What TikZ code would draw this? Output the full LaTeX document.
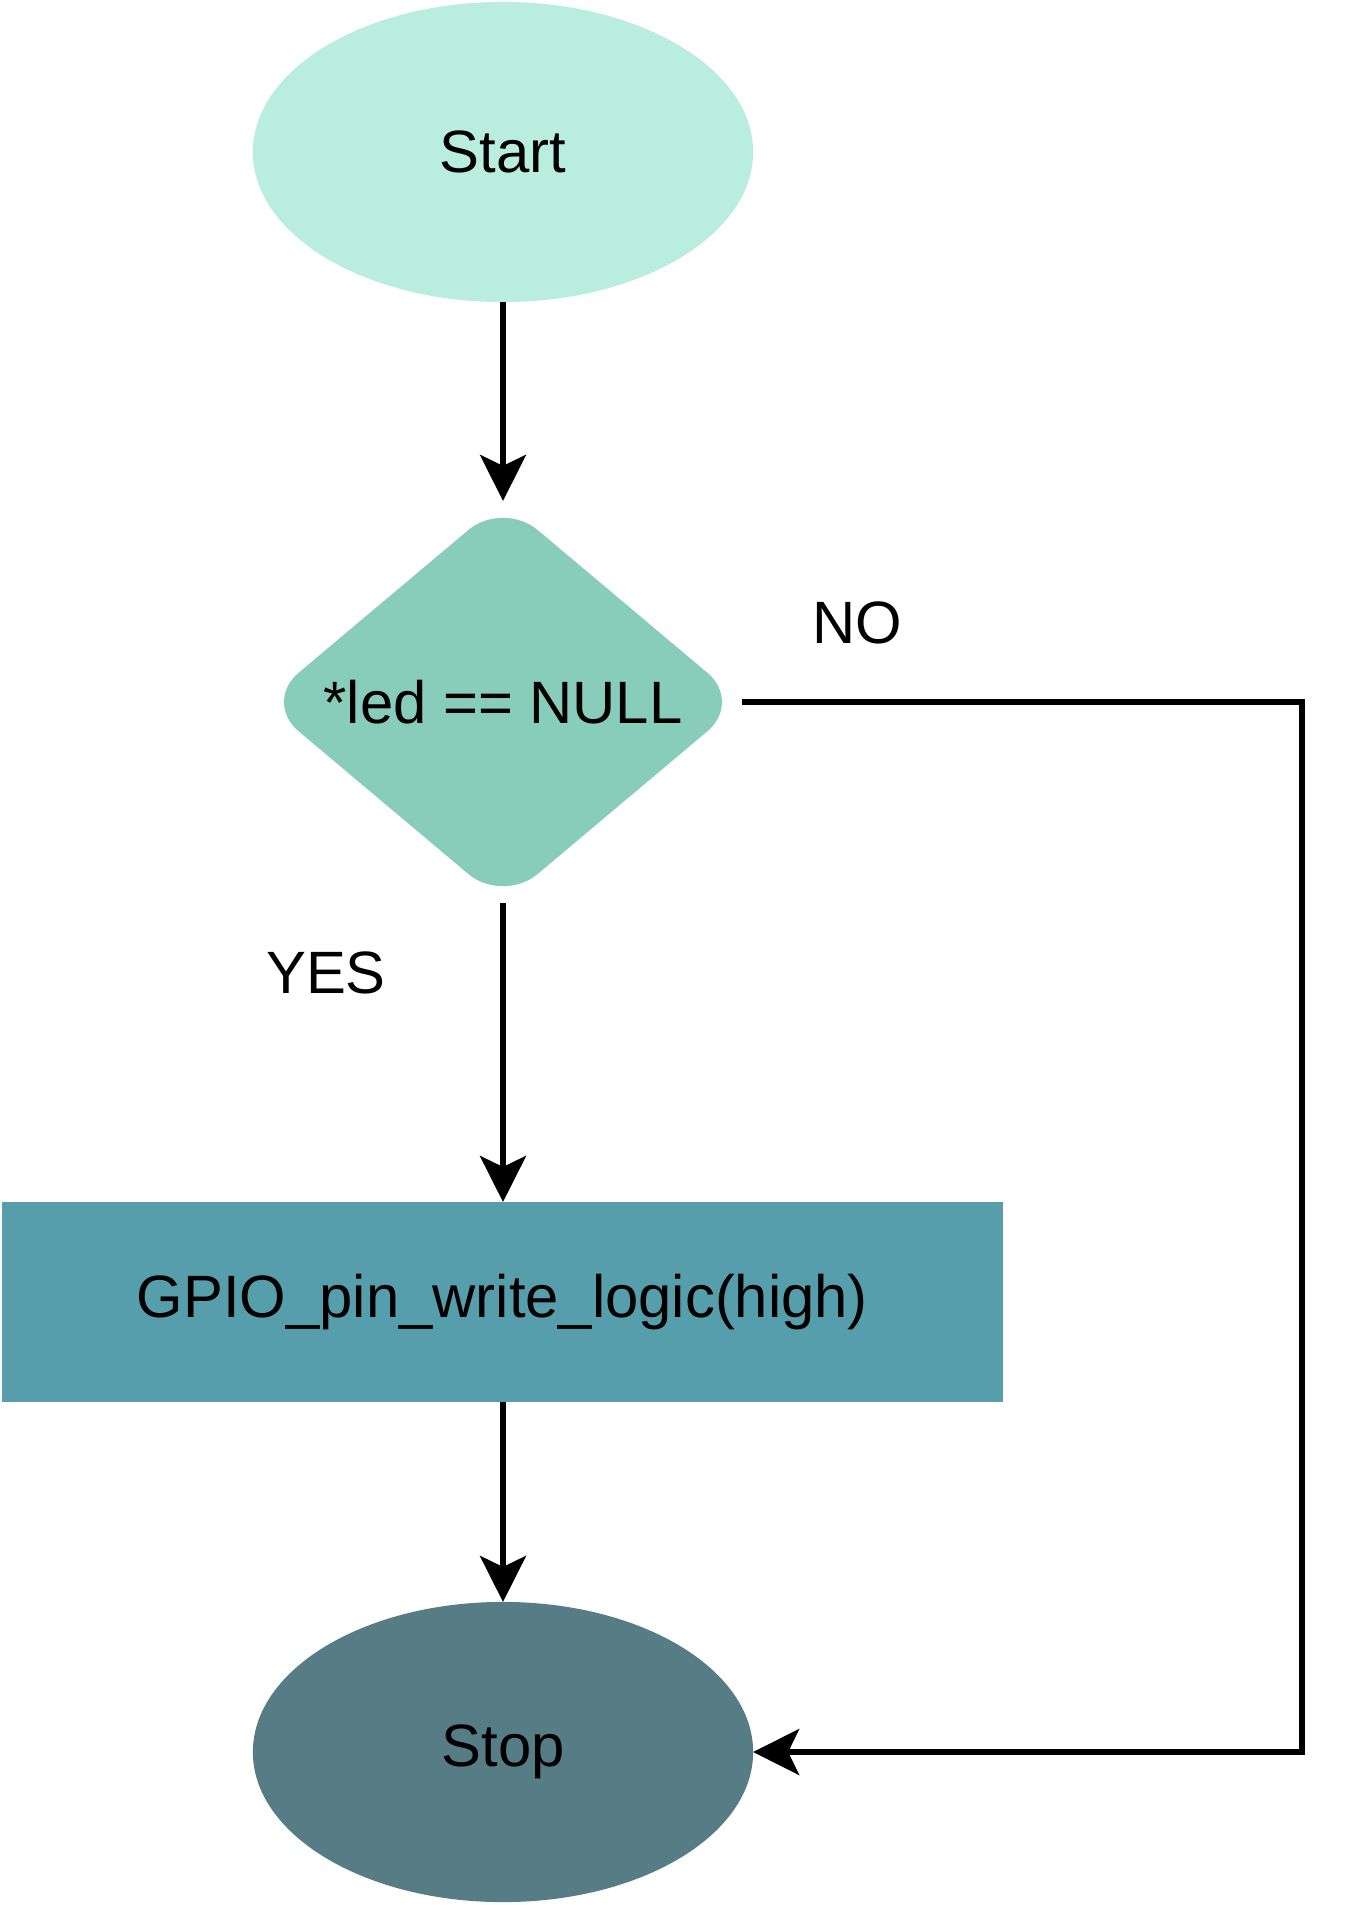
\documentclass[tikz,border=0pt]{standalone}
\usepackage{fontspec}
\setmainfont{Liberation Sans}
\usetikzlibrary{shapes.geometric,arrows.meta}
\definecolor{startcol}{HTML}{B9EEDE}
\definecolor{deccol}{HTML}{88CCBA}
\definecolor{proccol}{HTML}{569EAB}
\definecolor{stopcol}{HTML}{567C85}
\begin{document}
\begin{tikzpicture}[x=0.01cm, y=-0.01cm,
    every node/.style={font=\fontsize{17}{20}\selectfont, text=black},
    terminal/.style={ellipse, minimum width=5cm, minimum height=3cm, inner sep=0pt, outer sep=0pt},
    decision/.style={diamond, fill=deccol, aspect=1.19, minimum width=4.78cm, minimum height=4.02cm, inner sep=0pt, outer sep=0pt, rounded corners=0.45cm},
    process/.style={rectangle, fill=proccol, minimum width=10.01cm, minimum height=2cm, inner sep=0pt, outer sep=0pt},
    arr/.style={line width=1.5pt, -{Stealth[length=0.46cm, width=0.46cm, inset=0.11cm]}}]

    % Page frame
    \useasboundingbox (0,0) rectangle (1345,1905);

    % Define flowchart nodes
    \node[terminal, fill=startcol] (start) at (503,152) {Start};
    \node[decision] (dec) at (503,702) {*led == NULL};
    \node[process] (act) at (502.5,1302) {GPIO\_pin\_write\_logic(high)};
    \node[terminal, fill=stopcol] (stop) at (503,1752) {Stop};

    % Branch labels
    \node (lblno) at (857,623) {NO};
    \node (lblyes) at (326,973) {YES};

    % Draw connectors
    \coordinate (bend) at (1302,702);
    \draw[arr] (start) -- (dec);
    \draw[arr] (dec.south) -- (dec.south |- act.north);
    \draw[arr] (act.south -| stop.north) -- (stop.north);
    \draw[arr] (dec.east) -- (bend) |- (stop.east);

\end{tikzpicture}
\end{document}
